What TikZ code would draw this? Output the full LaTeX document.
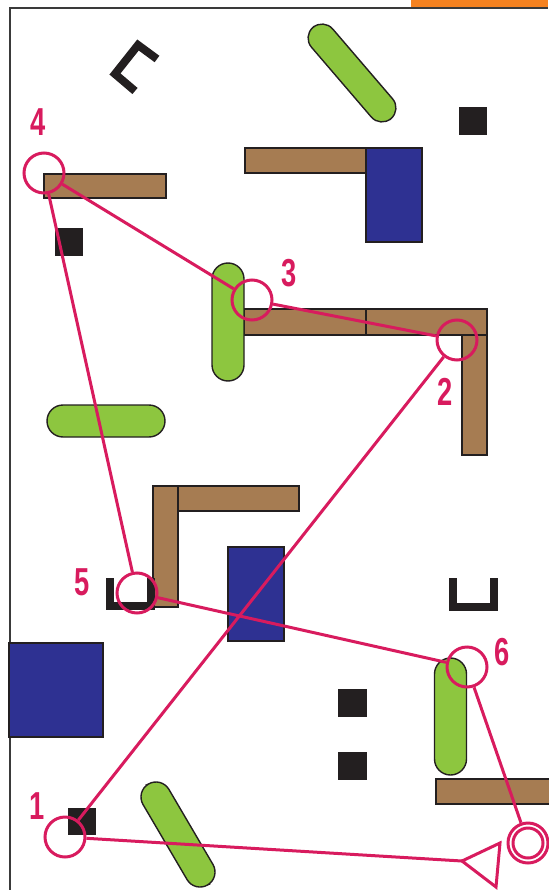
\documentclass[tikz,border=0pt]{standalone}
\usepackage{fontspec}
\usepackage{graphicx}
\setmainfont{Liberation Sans}
\definecolor{crimson}{HTML}{D81B5E}
\definecolor{wood}{HTML}{A67C52}
\definecolor{leaf}{HTML}{8DC63F}
\definecolor{navy}{HTML}{2E3192}
\definecolor{ink}{HTML}{231F20}
\definecolor{tangerine}{HTML}{F58220}
\definecolor{framegray}{HTML}{3A3A3A}
\tikzset{
  outlined/.style={draw=ink, line width=1.4pt},
  woodbar/.style={outlined, fill=wood},
  navyblock/.style={outlined, fill=navy},
  pill/.style={outlined, fill=leaf, inner sep=0pt, minimum height=2*#1, rounded corners=#1},
  bracket/.style={draw=ink, line width=8pt, line cap=butt, line join=miter},
  ring/.style={circle, draw=crimson, line width=3pt, minimum size=40pt, inner sep=0pt},
  link/.style={draw=crimson, line width=3pt},
  tag/.style={text=crimson, inner sep=0pt, font=\bfseries\fontsize{39}{39}\selectfont},
}
\newcommand{\narrow}[1]{\scalebox{0.7}[1]{#1}}
\begin{document}
\begin{tikzpicture}[x=1pt, y=-1pt]
\useasboundingbox (0,0) rectangle (548,890);

% frame and corner tab
\draw[framegray, line width=1.2pt] (10,890) -- (10,8) -- (548,8);
\fill[tangerine] (411,0) rectangle (548,7);

% wooden beams
\draw[woodbar] (44,174) rectangle (166,198);
\draw[woodbar] (245,148) rectangle (367,173);
\draw[woodbar] (244,309) rectangle (366,335);
\draw[woodbar] (366,309) rectangle (487,335);
\draw[woodbar] (462,335) rectangle (487,455);
\draw[woodbar] (153,486) rectangle (178,607);
\draw[woodbar] (178,486) rectangle (299,511);
\draw[woodbar] (436,779) rectangle (552,804);

% blue blocks
\draw[navyblock] (366,148) rectangle (422,242);
\draw[navyblock] (228,547) rectangle (284,641);
\draw[navyblock] (9,643) rectangle (103,737);

% small black squares
\fill[ink] (459,107) rectangle (487,135);
\fill[ink] (55,228) rectangle (83,256);
\fill[ink] (338,689) rectangle (367,717);
\fill[ink] (338,752) rectangle (367,780);
\fill[ink] (68,808) rectangle (96,835);

% green pills
\node[pill=14pt, minimum width=120pt, rotate=-49.4] (pillA) at (352,73) {};
\node[pill=16pt, minimum width=118pt, rotate=90] (pillB) at (228,322) {};
\node[pill=16pt, minimum width=118pt] (pillC) at (106,421) {};
\node[pill=16pt, minimum width=117pt, rotate=90] (pillD) at (450.5,716.5) {};
\node[pill=15pt, minimum width=117pt, rotate=-59.6] (pillE) at (178,834.5) {};

% black brackets
\draw[bracket] (157,59) -- (138,45) -- (115,74) -- (135,91);
\draw[bracket] (110,578) -- (110,606) -- (151,606) -- (151,578);
\draw[bracket] (453,578) -- (453,607) -- (494,607) -- (494,578);

% route markers
\node[ring] (c1) at (65,837) {};
\node[ring] (c2) at (457,340) {};
\node[ring] (c3) at (252,300) {};
\node[ring] (c4) at (44,173) {};
\node[ring] (c5) at (137,593) {};
\node[ring] (c6) at (467,667) {};
\node[ring] (goal) at (528,843) {};
\node[circle, draw=crimson, line width=3pt, minimum size=30pt, inner sep=0pt] (goalin) at (goal) {};
\coordinate (tip) at (462,861);
\draw[link, line join=miter] (tip) -- (500,843) -- (496,887) -- cycle;

% route
\draw[link] (c1) -- (c2);
\draw[link] (c2) -- (c3);
\draw[link] (c3) -- (c4);
\draw[link] (c4) -- (c5);
\draw[link] (c5) -- (c6);
\draw[link] (c6) -- (goal);
\draw[link] (c1) -- (tip);

% numbers
\node[tag] (n1) at (37,806) {\narrow{1}};
\node[tag] (n2) at (445,392) {\narrow{2}};
\node[tag] (n3) at (289,273) {\narrow{3}};
\node[tag] (n4) at (38,122) {\narrow{4}};
\node[tag] (n5) at (82,582) {\narrow{5}};
\node[tag] (n6) at (502,652) {\narrow{6}};
\end{tikzpicture}
\end{document}
